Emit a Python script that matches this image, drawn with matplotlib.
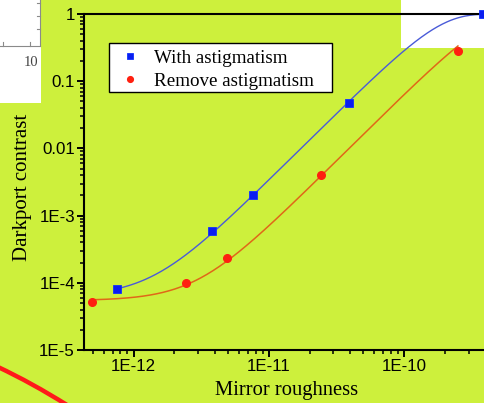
import numpy as np
import matplotlib
matplotlib.use("Agg")
import matplotlib.pyplot as plt
from matplotlib.path import Path
from matplotlib.patches import PathPatch, Rectangle
from matplotlib.lines import Line2D

# roughness values (m) and darkport contrast
x_with = [7.6e-13, 3.8e-12, 7.6e-12, 3.9e-11, 3.8e-10]
y_with = [8.1e-5, 5.8e-4, 2.0e-3, 4.7e-2, 0.99]
x_remove = [4.9e-13, 2.45e-12, 4.9e-12, 2.45e-11, 2.5e-10]
y_remove = [5.2e-5, 1.0e-4, 2.3e-4, 4.0e-3, 0.285]

series_names = ["With astigmatism", "Remove astigmatism"]
ytick_vals = [1e-5, 1e-4, 1e-3, 1e-2, 1e-1, 1]
ytick_labels = ["1E-5", "1E-4", "1E-3", "0.01", "0.1", "1"]
xtick_vals = [1e-12, 1e-11, 1e-10]
xtick_labels = ["1E-12", "1E-11", "1E-10"]

W, H = 485, 403
BG = "#cdf03c"


def px(x, y):
    # pixel (from top-left) -> figure fraction
    return x / W, 1 - y / H


def fit_scatter(x, y):
    # least squares in log space for y = a + (1-a)(1-exp(-b x^2))
    x = np.asarray(x)
    y = np.asarray(y)
    a = np.logspace(-5.5, -3.0, 250)[:, None, None]
    b = np.logspace(17.5, 20.5, 250)[None, :, None]
    pred = a + (1 - a) * (1 - np.exp(-b * x ** 2))
    err = ((np.log10(pred) - np.log10(y)) ** 2).sum(axis=2)
    i, j = np.unravel_index(np.argmin(err), err.shape)
    a0, b0 = a[i, 0, 0], b[0, j, 0]
    xs = np.logspace(np.log10(x[0]), np.log10(x[-1]), 300)
    return xs, a0 + (1 - a0) * (1 - np.exp(-b0 * xs ** 2))


fig = plt.figure(figsize=(W / 100, H / 100), dpi=100, facecolor=BG)

# white patches behind the plot
fig.patches.append(Rectangle(px(0, 103), 41 / W, 103 / H, transform=fig.transFigure,
                             facecolor="white", edgecolor="none", zorder=-2))
fig.patches.append(Rectangle(px(401, 48), 84 / W, 48 / H, transform=fig.transFigure,
                             facecolor="white", edgecolor="none", zorder=-2))
# corner of the neighbouring graph
gray = "#8a8a8a"
fig.lines.append(Line2D(*zip(px(40.5, 0), px(40.5, 45.5)), transform=fig.transFigure, color=gray, lw=0.8))
fig.lines.append(Line2D(*zip(px(0, 45.5), px(40.5, 45.5)), transform=fig.transFigure, color=gray, lw=0.8))
for ty in [3, 16, 29]:
    fig.lines.append(Line2D(*zip(px(37, ty), px(40.5, ty)), transform=fig.transFigure, color=gray, lw=0.8))
for tx in [3, 30]:
    fig.lines.append(Line2D(*zip(px(tx, 41.5), px(tx, 45.5)), transform=fig.transFigure, color=gray, lw=0.8))
fig.text(*px(31, 62), "10", fontsize=10.5, family="Liberation Serif", color="#444444",
         ha="center", va="center")

# red arc in the corner
verts = [px(-2, 367), px(32, 383), px(67, 405)]
arc = PathPatch(Path(verts, [Path.MOVETO, Path.CURVE3, Path.CURVE3]), transform=fig.transFigure,
                facecolor="none", edgecolor="#ff1a1a", lw=3.2, zorder=1)
fig.patches.append(arc)

l, b_ = px(84, 350)
ax = fig.add_axes([l, b_, (490 - 84) / W, (350 - 14) / H])
ax.set_facecolor("none")
ax.set_xscale("log")
ax.set_yscale("log")
ax.set_xlim(10 ** -12.366, 10 ** -9.365)
ax.set_ylim(1e-5, 1)

xf, yf = fit_scatter(x_with, y_with)
ax.plot(xf, yf, color="#4a5bd8", lw=1.0, zorder=2)
xf, yf = fit_scatter(x_remove, y_remove)
ax.plot(xf, yf, color="#e06818", lw=1.1, zorder=2)

ax.plot(x_with, y_with, "s", color="#0a1ef0", ms=5.5, mec="#1030ff", mew=0.6,
        ls="none", label=series_names[0], zorder=3, clip_on=False)
ax.plot(x_remove, y_remove, "o", color="#ff2010", ms=5.5, mec="#ff2010",
        ls="none", label=series_names[1], zorder=3, clip_on=False)

for s in ["left", "bottom", "top"]:
    ax.spines[s].set_linewidth(1.5)
ax.spines["right"].set_visible(False)

ax.set_yticks(ytick_vals)
ax.set_yticklabels(ytick_labels)
ax.set_xticks(xtick_vals)
ax.set_xticklabels(xtick_labels)
ax.yaxis.set_minor_locator(matplotlib.ticker.LogLocator(base=10, subs=np.arange(2, 10), numticks=20))
ax.xaxis.set_minor_locator(matplotlib.ticker.LogLocator(base=10, subs=np.arange(2, 10), numticks=20))
ax.yaxis.set_minor_formatter(matplotlib.ticker.NullFormatter())
ax.xaxis.set_minor_formatter(matplotlib.ticker.NullFormatter())
ax.tick_params(which="major", direction="out", length=5, width=1.4, pad=1.5,
               labelsize=12.2, top=False, right=False)
ax.tick_params(which="minor", direction="out", length=3, width=1.1, top=False, right=False)
for t in ax.get_xticklabels() + ax.get_yticklabels():
    t.set_family("Liberation Sans")

fig.text(*px(287, 391), "Mirror roughness", fontsize=14.8, family="Liberation Serif",
         ha="center", va="center")
fig.text(*px(23, 187), "Darkport contrast", fontsize=15, family="Liberation Serif",
         rotation=90, ha="center", va="center")

# legend box, wider than the entries
box = Rectangle(px(109.5, 92), (332 - 109.5) / W, (92 - 43) / H, transform=fig.transFigure,
                facecolor="white", edgecolor="black", lw=1.0, zorder=4, clip_on=False)
ax.add_patch(box)
leg = ax.legend(loc="upper left", bbox_to_anchor=px(117, 46), bbox_transform=fig.transFigure,
                frameon=False, borderaxespad=0, borderpad=0.2, handlelength=1.0,
                handletextpad=0.75, labelspacing=0.3, markerscale=0.75,
                prop={"family": "Liberation Serif", "size": 13.7})
leg.set_zorder(5)

fig.savefig("out.png", dpi=100, facecolor=BG)
